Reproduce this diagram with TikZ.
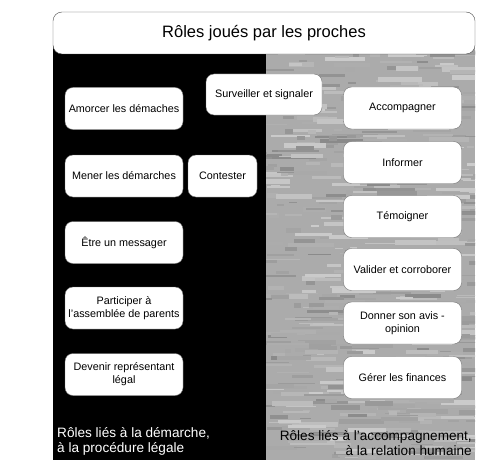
\documentclass[tikz,border=0pt]{standalone}
\usepackage{fontspec}
\setmainfont{Liberation Sans}
\usetikzlibrary{positioning}

\tikzset{
  role/.style={draw=black!55,fill=white,rounded corners=8pt,align=center,
    minimum width=118pt,minimum height=42pt,inner sep=1pt,
    font=\fontsize{10.8}{13}\selectfont},
  zone/.style={font=\fontsize{13.6}{15.5}\selectfont,inner sep=0pt},
}

\begin{document}
\begin{tikzpicture}[x=1pt,y=-1pt]
\useasboundingbox (0,0) rectangle (478,468);
% the two halves
\fill[black] (53,45) rectangle (266,460);
\fill[black!33] (266,45) rectangle (475,460);
\begin{scope}
\clip (266,45) rectangle (475,460);
\pgfmathsetseed{11}
\foreach \i in {1,...,600}{
  \pgfmathsetmacro{\sx}{255+rnd*215}
  \pgfmathsetmacro{\sy}{45+rnd*412}
  \pgfmathsetmacro{\sw}{6+rnd*40}
  \pgfmathsetmacro{\sh}{1+rnd*4}
  \pgfmathsetmacro{\sg}{20+rnd*26}
  \fill[black!\sg] (\sx,\sy) rectangle ++(\sw,\sh);
}
\end{scope}

% title
\node[draw=black!70,fill=white,rounded corners=9pt,minimum width=422pt,minimum height=42pt,
  font=\fontsize{16.5}{20}\selectfont] (title) at (264,33) {Rôles joués par les proches};

% demarche
\node[role] (amorcer)    at (124,108.5) {Amorcer les démaches};
\node[role] (mener)      at (124,176)   {Mener les démarches};
\node[role,minimum width=69pt] (contester) at (222.5,176) {Contester};
\node[role] (etre)       at (124,242.5) {Être un messager};
\node[role] (participer) at (124,308)   {Participer à\\l'assemblée de parents};
\node[role] (devenir)    at (124,374.5) {Devenir représentant\\légal};
\node[role,minimum width=116pt,minimum height=41pt] (surveiller) at (264,94.5) {Surveiller et signaler};

% accompagnement
\node[role] (accompagner) at (402.5,108)   {Accompagner};
\node[role] (informer)    at (402.5,162.5) {Informer};
\node[role] (temoigner)   at (402.5,216.5) {Témoigner};
\node[role] (valider)     at (402.5,269.5) {Valider et corroborer};
\node[role] (donner)      at (402.5,323)   {Donner son avis -\\opinion};
\node[role] (gerer)       at (402.5,377.5) {Gérer les finances};

\node[zone,text=white,anchor=south west,align=left] (legale) at (57,456)
  {Rôles liés à la démarche,\\à la procédure légale};
\node[zone,anchor=south east,align=right] (humaine) at (472,456)
  {Rôles liés à l’accompagnement,\\à la relation humaine};
\end{tikzpicture}
\end{document}
